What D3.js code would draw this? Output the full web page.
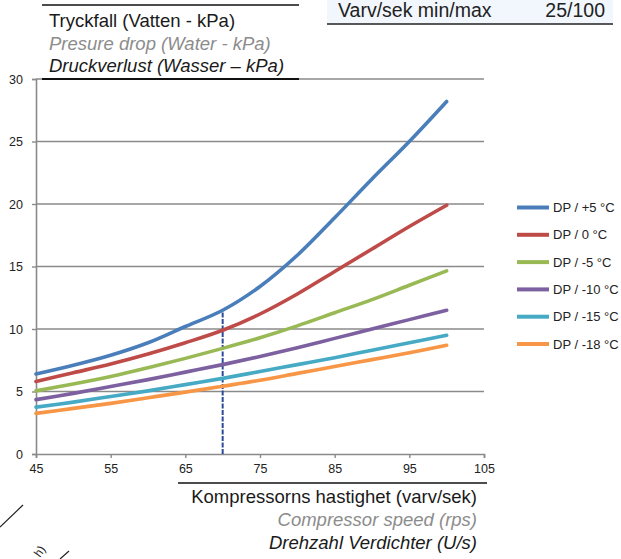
<!DOCTYPE html>
<html>
<head>
<meta charset="utf-8">
<script src="https://cdn.jsdelivr.net/npm/d3@7"></script>
<style>
  html, body { margin: 0; padding: 0; background: #fff; }
  svg { display: block; }
</style>
</head>
<body>
<svg id="chart" width="621" height="559"></svg>
<script>
// ---- data ----
const speeds = [45, 50, 55, 60, 65, 70, 75, 80, 85, 90, 95, 100];
const seriesNames = ["DP / +5 °C", "DP / 0 °C", "DP / -5 °C", "DP / -10 °C", "DP / -15 °C", "DP / -18 °C"];
const dpPlus5  = [6.4, 7.1, 7.9, 8.9, 10.2, 11.5, 13.4, 15.9, 18.9, 22.0, 25.0, 28.2];
const dp0      = [5.8, 6.5, 7.2, 8.0, 8.9, 9.9, 11.2, 12.8, 14.6, 16.4, 18.2, 19.9];
const dpMinus5 = [5.05, 5.6, 6.2, 6.9, 7.65, 8.45, 9.3, 10.25, 11.3, 12.35, 13.5, 14.65];
const dpMinus10 = [4.35, 4.85, 5.4, 5.95, 6.55, 7.15, 7.8, 8.5, 9.25, 10.0, 10.75, 11.5];
const dpMinus15 = [3.75, 4.15, 4.6, 5.05, 5.55, 6.05, 6.6, 7.15, 7.7, 8.3, 8.9, 9.5];
const dpMinus18 = [3.25, 3.65, 4.05, 4.5, 4.95, 5.42, 5.9, 6.45, 7.0, 7.55, 8.1, 8.7];
const xTicks = [45, 55, 65, 75, 85, 95, 105];
const yTicks = [0, 5, 10, 15, 20, 25, 30];
const markerSpeed = 70;   // dashed reference line
const titleLines = ["Tryckfall (Vatten - kPa)", "Presure drop (Water - kPa)", "Druckverlust (Wasser – kPa)"];
const xTitleLines = ["Kompressorns hastighet (varv/sek)", "Compressor speed (rps)", "Drehzahl Verdichter (U/s)"];
const infoLabel = "Varv/sek min/max";
const infoValue = "25/100";

const allSeries = [dpPlus5, dp0, dpMinus5, dpMinus10, dpMinus15, dpMinus18];
const colors = ["#4A7EBB", "#BE4B48", "#98B954", "#7D60A0", "#46AAC5", "#F79646"];

// ---- layout ----
const svg = d3.select("#chart");
const x = d3.scaleLinear().domain([45, 105]).range([36, 484]);
const y = d3.scaleLinear().domain([0, 30]).range([454, 79]);
const tickFont = "'Liberation Sans', Arial, sans-serif";
const textFont = "'Liberation Sans', Arial, sans-serif";

// top-right info box
svg.append("rect").attr("x", 327).attr("y", 0).attr("width", 286).attr("height", 24).attr("fill", "#F1F7FC");
svg.append("line").attr("x1", 327).attr("x2", 613).attr("y1", 24).attr("y2", 24).attr("stroke", "#222").attr("stroke-width", 1.5);
svg.append("text").attr("x", 338).attr("y", 17).attr("font-family", textFont).attr("font-size", 19.5).attr("fill", "#222").text(infoLabel);
svg.append("text").attr("x", 605).attr("y", 17).attr("text-anchor", "end").attr("font-family", textFont).attr("font-size", 19.5).attr("fill", "#222").text(infoValue);

// gridlines
svg.append("g").selectAll("line").data(yTicks.filter(d => d > 0)).join("line")
  .attr("x1", x(45)).attr("x2", x(105))
  .attr("y1", d => y(d)).attr("y2", d => y(d))
  .attr("stroke", "#8a8a8a").attr("stroke-width", 1.4);

// y axis
const yAxis = d3.axisLeft(y).tickValues(yTicks).tickSize(4).tickPadding(9).tickFormat(d3.format("d"));
const gy = svg.append("g").attr("transform", `translate(${x(45)},0)`).call(yAxis);
gy.select(".domain").attr("stroke", "#8a8a8a").attr("stroke-width", 1.6);
gy.selectAll(".tick line").attr("stroke", "#8a8a8a").attr("stroke-width", 1.4);
gy.selectAll(".tick text").attr("font-family", tickFont).attr("font-size", 12.5).attr("fill", "#222");

// x axis
const xAxis = d3.axisBottom(x).tickValues(xTicks).tickSize(4).tickPadding(6).tickFormat(d3.format("d"));
const gx = svg.append("g").attr("transform", `translate(0,${y(0)})`).call(xAxis);
gx.select(".domain").attr("stroke", "#8a8a8a").attr("stroke-width", 1.6);
gx.selectAll(".tick line").attr("stroke", "#8a8a8a").attr("stroke-width", 1.4);
gx.selectAll(".tick text").attr("font-family", tickFont).attr("font-size", 12.5).attr("fill", "#222");

// title block (top-left)
svg.append("rect").attr("x", 42).attr("y", 5).attr("width", 257).attr("height", 74).attr("fill", "#fff");
svg.append("line").attr("x1", 42).attr("x2", 299).attr("y1", 5).attr("y2", 5).attr("stroke", "#111").attr("stroke-width", 1.5);
svg.append("line").attr("x1", 42).attr("x2", 299).attr("y1", 79).attr("y2", 79).attr("stroke", "#111").attr("stroke-width", 1.8);
const titleStyles = [
  {fill: "#1a1a1a", style: "normal"},
  {fill: "#8c8c8c", style: "italic"},
  {fill: "#1a1a1a", style: "italic"}
];
titleLines.forEach((t, i) => {
  svg.append("text").attr("x", 49).attr("y", 27 + i * 22.5)
    .attr("font-family", textFont).attr("font-size", 18.5)
    .attr("font-style", titleStyles[i].style).attr("fill", titleStyles[i].fill).text(t);
});

// dashed marker line at 70 rps
const blueAt70 = dpPlus5[speeds.indexOf(markerSpeed)];
svg.append("line").attr("x1", x(markerSpeed)).attr("x2", x(markerSpeed))
  .attr("y1", y(0)).attr("y2", y(blueAt70))
  .attr("stroke", "#2C4A9A").attr("stroke-width", 2).attr("stroke-dasharray", "5,1.5");

// series lines
const line = d3.line().x(d => x(d[0])).y(d => y(d[1])).curve(d3.curveCatmullRom.alpha(0.5));
allSeries.forEach((vals, i) => {
  svg.append("path").datum(speeds.map((s, j) => [s, vals[j]]))
    .attr("d", line).attr("fill", "none")
    .attr("stroke", colors[i]).attr("stroke-width", 3.6).attr("stroke-linecap", "round");
});

// legend
const lg = svg.append("g");
seriesNames.forEach((n, i) => {
  const ly = 207.5 + i * 27.3;
  lg.append("line").attr("x1", 517).attr("x2", 549).attr("y1", ly).attr("y2", ly)
    .attr("stroke", colors[i]).attr("stroke-width", 4);
  lg.append("text").attr("x", 553).attr("y", ly + 4.5).attr("font-family", textFont)
    .attr("font-size", 13).attr("fill", "#222").text(n);
});

// x title block (bottom)
svg.append("line").attr("x1", 178).attr("x2", 487).attr("y1", 483).attr("y2", 483).attr("stroke", "#111").attr("stroke-width", 1.5);
xTitleLines.forEach((t, i) => {
  svg.append("text").attr("x", 477).attr("y", 503 + i * 23)
    .attr("text-anchor", "end").attr("font-family", textFont).attr("font-size", 18.5)
    .attr("font-style", titleStyles[i].style).attr("fill", titleStyles[i].fill).text(t);
});

// stray marks at bottom-left of the scanned sheet
svg.append("line").attr("x1", 0).attr("y1", 527).attr("x2", 23).attr("y2", 505).attr("stroke", "#222").attr("stroke-width", 1.2);
svg.append("line").attr("x1", 60).attr("y1", 559).attr("x2", 69).attr("y2", 551).attr("stroke", "#222").attr("stroke-width", 1.2);
svg.append("text").attr("transform", "translate(40,558) rotate(-55)")
  .attr("font-family", textFont).attr("font-size", 12).attr("fill", "#222").text("h)");
</script>
</body>
</html>
